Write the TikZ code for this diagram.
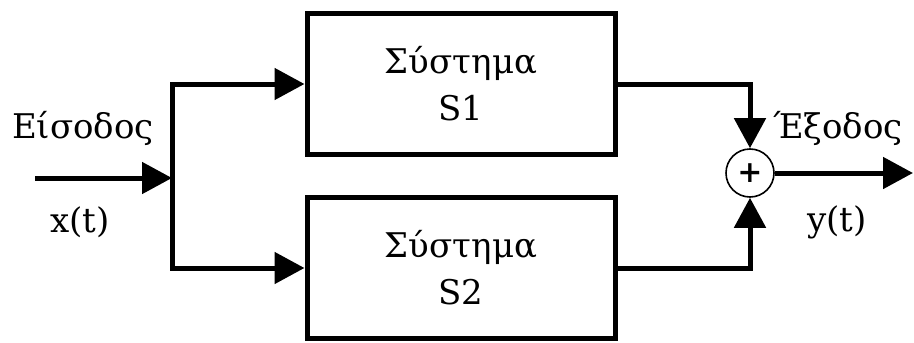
\documentclass[tikz,border=0pt]{standalone}
\usepackage{fontspec}
\setmainfont{DejaVu Serif}
\usetikzlibrary{arrows.meta,positioning}
\begin{document}
\begin{tikzpicture}[x=1pt,y=-1pt,
  blk/.style={draw,line width=5pt,minimum width=308pt,minimum height=141pt,
    align=center,font=\fontsize{34}{47}\selectfont,inner sep=0pt},
  wire/.style={line width=5pt},
  arr/.style={wire,-{Triangle[length=30pt,width=31pt]}},
  summer/.style={draw,circle,line width=1.6pt,minimum size=48pt,inner sep=0pt},
  lbl/.style={font=\fontsize{34}{40}\selectfont,inner sep=0pt}]
  \useasboundingbox (0,0) rectangle (914,343);
  % the two parallel systems
  \node[blk] (s1) at (461,84) {Σύστημα\\S1};
  \node[blk] (s2) at (461,268) {Σύστημα\\S2};
  % adder
  \node[summer] (sum) at (750,173) {};
  \node[font=\fontsize{30}{30}\selectfont\bfseries] (plus) at (sum.center) {+};
  % branching input
  \coordinate (in) at (35,178);
  \coordinate (fork) at (172,178);
  \coordinate (forkup) at (172,84);
  \coordinate (forkdn) at (172,268);
  \coordinate (out) at (913,173);
  \draw[arr] (in) -- (fork);
  \draw[wire,line cap=rect] (forkup) -- (forkdn);
  \draw[arr] (forkup) -- (s1.west);
  \draw[arr] (forkdn) -- (s2.west);
  \draw[arr] (s1.east) -| (sum.north);
  \draw[arr] (s2.east) -| (sum.south);
  \draw[arr] (sum.east) -- (out);
  % signal labels
  \node[lbl] (lin) at (83,128) {Είσοδος};
  \node[lbl] (lx) at (80,222) {x(t)};
  \node[lbl] (lout) at (838,128) {Έξοδος};
  \node[lbl] (ly) at (837,222) {y(t)};
\end{tikzpicture}
\end{document}
